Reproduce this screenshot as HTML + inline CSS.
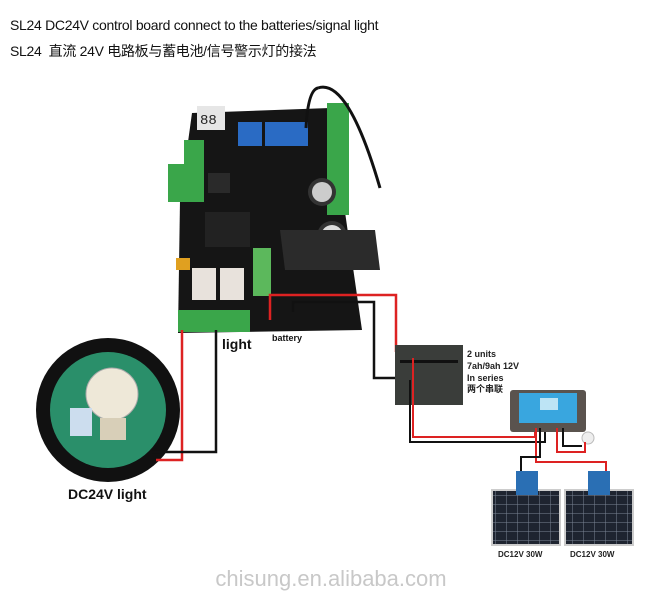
<!DOCTYPE html>
<html><head><meta charset="utf-8"><style>
body{margin:0;width:663px;height:601px;background:#fff;overflow:hidden;position:relative;font-family:"Liberation Sans","Noto Sans CJK SC",sans-serif}
.t{position:absolute;left:10px;font-size:14px;color:#111;letter-spacing:-0.3px}
</style></head><body>
<div class="t" style="top:17px">SL24 DC24V control board connect to the batteries/signal light</div>
<div class="t" style="top:41px">SL24&nbsp; 直流 24V 电路板与蓄电池/信号警示灯的接法</div>
<svg width="663" height="601" style="position:absolute;left:0;top:0">
<defs><pattern id="g" width="11" height="9" patternUnits="userSpaceOnUse"><rect width="11" height="9" fill="#1e2430"/><path d="M0,0H11M0,0V9" stroke="#7a8494" stroke-width="1"/></pattern></defs>
<polygon points="192,113 330,108 345,212 362,330 178,333 180,200" fill="#151515"/>
<rect x="197" y="106" width="28" height="24" fill="#e6e6e6"/>
<text x="200" y="124" font-size="14" fill="#222" font-family="Liberation Mono">88</text>
<rect x="238" y="122" width="24" height="24" fill="#2a6bc4"/><rect x="265" y="122" width="24" height="24" fill="#2a6bc4"/><rect x="288" y="122" width="20" height="24" fill="#2a6bc4"/>
<rect x="327" y="103" width="22" height="112" fill="#3aa64a"/>
<rect x="184" y="140" width="20" height="26" fill="#3aa64a"/>
<rect x="168" y="164" width="36" height="38" fill="#3aa64a"/>
<rect x="208" y="173" width="22" height="20" fill="#2a2a2a"/>
<circle cx="322" cy="192" r="14" fill="#333"/><circle cx="322" cy="192" r="10" fill="#ccc"/>
<circle cx="332" cy="236" r="15" fill="#333"/><circle cx="332" cy="236" r="11" fill="#ddd"/>
<path d="M280,230 h95 l5,40 h-95 z" fill="#2b2b2b"/>
<rect x="205" y="212" width="45" height="35" fill="#222"/>
<rect x="192" y="268" width="24" height="32" fill="#e8e2dc"/><rect x="220" y="268" width="24" height="32" fill="#e8e2dc"/>
<rect x="253" y="248" width="18" height="48" fill="#5cb85c"/>
<rect x="178" y="310" width="72" height="22" fill="#3aa64a"/>
<rect x="176" y="258" width="14" height="12" fill="#e0a020"/>
<path d="M318,88 q-10,2 -12,40 M318,88 q30,-10 62,100" stroke="#111" stroke-width="3" fill="none"/>
<polyline points="270,320 270,295 396,295 396,352" stroke="#d22" stroke-width="2.5" fill="none"/>
<polyline points="293,312 293,302 374,302 374,378 405,378" stroke="#111" stroke-width="2.5" fill="none"/>
<rect x="395" y="345" width="68" height="60" fill="#3a3d3a"/>
<rect x="400" y="360" width="58" height="3" fill="#111"/>
<polyline points="413,358 413,437 535,437 535,425" stroke="#d22" stroke-width="2" fill="none"/>
<polyline points="410,380 410,442 545,442 545,425" stroke="#111" stroke-width="2" fill="none"/>
<text font-size="9" font-weight="bold" fill="#222"><tspan x="467" y="357">2 units</tspan><tspan x="467" y="369">7ah/9ah 12V</tspan><tspan x="467" y="381">In series</tspan><tspan x="467" y="392">两个串联</tspan></text>
<rect x="510" y="390" width="76" height="42" rx="3" fill="#5a534e"/>
<rect x="519" y="393" width="58" height="30" fill="#39a6df"/>
<rect x="540" y="398" width="18" height="12" fill="#bde4f5"/>
<circle cx="588" cy="438" r="6" fill="#eee" stroke="#bbb"/>
<polyline points="557,428 557,452 585,452 585,442" stroke="#d22" stroke-width="2" fill="none"/>
<polyline points="563,428 563,446 582,446" stroke="#111" stroke-width="2" fill="none"/>
<polyline points="536,428 536,462 606,462 606,475" stroke="#d22" stroke-width="2" fill="none"/>
<polyline points="540,428 540,457 521,457 521,475" stroke="#111" stroke-width="2" fill="none"/>
<rect x="492" y="490" width="68" height="55" fill="url(#g)" stroke="#ccc" stroke-width="2"/>
<rect x="565" y="490" width="68" height="55" fill="url(#g)" stroke="#ccc" stroke-width="2"/>
<rect x="516" y="471" width="22" height="24" fill="#2a6fb4"/>
<rect x="588" y="471" width="22" height="24" fill="#2a6fb4"/>
<text x="498" y="557" font-size="8" font-weight="bold" fill="#222">DC12V 30W</text>
<text x="570" y="557" font-size="8" font-weight="bold" fill="#222">DC12V 30W</text>
<circle cx="108" cy="410" r="72" fill="#111"/>
<circle cx="108" cy="410" r="58" fill="#2a8f6a"/>
<circle cx="112" cy="394" r="26" fill="#eee8d8" stroke="#aaa"/>
<rect x="100" y="418" width="26" height="22" fill="#d8cfb8"/>
<rect x="70" y="408" width="22" height="28" fill="#cde"/>
<polyline points="182,330 182,460 156,460" stroke="#d22" stroke-width="2.5" fill="none"/>
<polyline points="216,330 216,452 152,452" stroke="#111" stroke-width="2.5" fill="none"/>
<text x="222" y="349" font-size="14" font-weight="bold" fill="#111">light</text>
<text x="272" y="341" font-size="9" font-weight="bold" fill="#111">battery</text>
<text x="68" y="499" font-size="14" font-weight="bold" fill="#111">DC24V light</text>
<text x="331" y="586" font-size="22" fill="#c8c8c8" text-anchor="middle">chisung.en.alibaba.com</text>
</svg>
</body></html>
